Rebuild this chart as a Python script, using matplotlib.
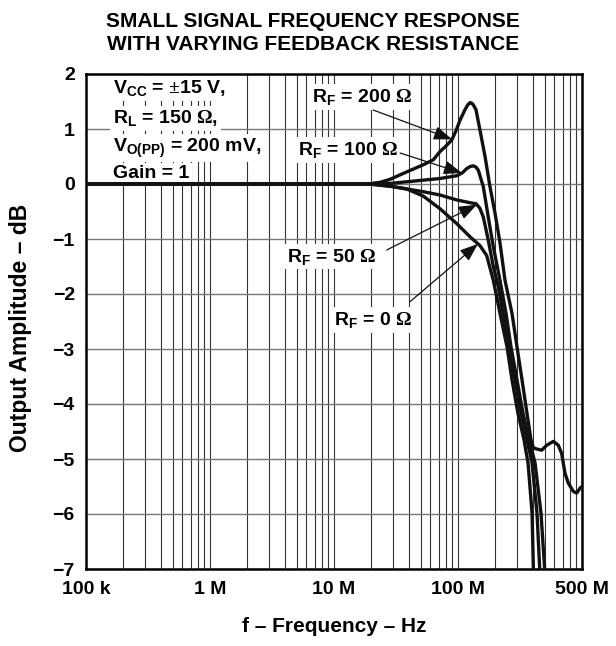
import matplotlib
matplotlib.use("Agg")
import matplotlib.pyplot as plt
import numpy as np
from matplotlib.ticker import LogLocator, NullFormatter

# fonts: Arial-like bold everywhere, serif for the Omega / plus-minus signs
plt.rcParams['font.family'] = ['Liberation Sans', 'DejaVu Sans']
plt.rcParams['font.weight'] = 'bold'
plt.rcParams['mathtext.fontset'] = 'custom'
plt.rcParams['mathtext.rm'] = 'Liberation Serif'
plt.rcParams['mathtext.bf'] = 'Liberation Sans:bold'
plt.rcParams['mathtext.it'] = 'Liberation Sans:bold'
plt.rcParams['mathtext.sf'] = 'Liberation Sans:bold'

# frequency in MHz, amplitude in dB
rf200_f = [0.1, 1, 10, 18.5, 23.5, 28.3, 38.6, 52.5, 63.2, 71.6, 80.0, 89.0, 96.0, 103.8,
           113.8, 120.0, 125.0, 129.0, 132.8, 139.7, 150.4, 165.2, 181.1, 198.8, 218.1,
           239.3, 272.5, 299.0, 328.3, 359.9, 388.0, 402.8, 418.1, 473.1, 519.0, 587.1,
           644.2, 685.5, 729.4, 776.2, 851.4, 906.3, 963.9, 1000.0]
rf200_db = [0, 0, 0, 0.0, 0.03, 0.085, 0.22, 0.35, 0.44, 0.59, 0.69, 0.80, 0.96, 1.16,
            1.35, 1.44, 1.48, 1.47, 1.44, 1.35, 0.98, 0.50, -0.05, -0.53, -1.07,
            -1.75, -2.35, -2.96, -3.56, -4.17, -4.65, -4.78, -4.81, -4.84, -4.75, -4.68,
            -4.75, -4.90, -5.26, -5.44, -5.59, -5.62, -5.53, -5.50]

rf100_f = [0.1, 1, 10, 20, 28.3, 52.5, 71.6, 97.7, 108.0, 117.5, 126.0, 132.8, 139.0,
           145.9, 160.0, 175.4, 192.6, 218.1, 243.8, 267.5, 299.0, 334.4, 374.0, 418.1,
           466.8, 503.3]
rf100_db = [0, 0, 0, 0, 0.01, 0.07, 0.10, 0.15, 0.20, 0.28, 0.32, 0.33, 0.31, 0.25,
            -0.05, -0.60, -1.14, -1.75, -2.35, -2.96, -3.56, -4.17, -4.65, -5.07,
            -5.98, -7.1]

rf50_f = [0.1, 1, 10, 20, 28.3, 52.5, 71.6, 97.7, 125.0, 140.0, 150.0, 160.0, 175.4,
          192.6, 211.4, 230.7, 257.8, 288.4, 322.3, 359.9, 395.5, 433.5, 458.3]
rf50_db = [0, 0, 0, 0, -0.04, -0.14, -0.20, -0.29, -0.34, -0.36, -0.44, -0.60, -1.02,
           -1.50, -1.87, -2.35, -2.96, -3.56, -4.17, -4.65, -5.07, -5.98, -7.1]

rf0_f = [0.1, 1, 10, 18.5, 28.3, 38.6, 52.5, 71.6, 97.7, 125.0, 150.4, 170.3, 192.6,
         218.1, 248.5, 272.5, 304.6, 340.6, 367.0, 395.5, 406.4]
rf0_db = [0, 0, 0, 0, -0.04, -0.09, -0.22, -0.45, -0.72, -0.96, -1.12, -1.30, -1.75,
          -2.35, -2.96, -3.56, -4.17, -4.65, -5.07, -5.98, -7.1]

curves = [(rf200_f, rf200_db), (rf100_f, rf100_db), (rf50_f, rf50_db), (rf0_f, rf0_db)]

xticks = [0.1, 1, 10, 100, 1000]
xtick_labels = ['100 k', '1 M', '10 M', '100 M', '500 M']
yticks = [2, 1, 0, -1, -2, -3, -4, -5, -6, -7]
ytick_labels = [str(v).replace('-', '\u2212') for v in yticks]

OHM = '$\\mathrm{\\Omega}$'
rf_labels = ['R$_{\\mathbf{F}}$ = 200 ' + OHM, 'R$_{\\mathbf{F}}$ = 100 ' + OHM,
             'R$_{\\mathbf{F}}$ = 50 ' + OHM, 'R$_{\\mathbf{F}}$ = 0 ' + OHM]
rf_label_pos = [(6.61, 1.49), (5.13, 0.527), (4.16, -1.41), (10.05, -2.56)]
arrow_start = [(20.7, 1.345), (34.1, 0.564), (26.6, -1.2), (41.0, -2.14)]
arrow_tip_f = [89.5, 107.7, 142.0, 145.0]

cond_lines = ['V$_{\\mathbf{CC}}$ = $\\mathrm{\\pm}$15 V,', 'R$_{\\mathbf{L}}$ = 150 ' + OHM + ',',
              'V$_{\\mathbf{O(PP)}}$ = 200 mV,', 'Gain = 1']
cond_y = [0.961, 0.900, 0.843, 0.789]

fig = plt.figure(figsize=(6.16, 6.46), dpi=100)
ax = fig.add_axes([86 / 616, 1 - 569 / 646, 496 / 616, 495 / 646])

for f, g in curves:
    ax.plot(f, g, color='#111111', lw=2.4, solid_joinstyle='round', zorder=4)

ax.set_xscale('log')
ax.set_xlim(0.1, 1000)
ax.set_ylim(-7, 2)
ax.set_xticks(xticks, xtick_labels)
ax.xaxis.set_minor_locator(LogLocator(base=10, subs=range(2, 10)))
ax.xaxis.set_minor_formatter(NullFormatter())
ax.set_yticks(yticks, ytick_labels)
ax.tick_params(which='both', length=0, labelsize=14, pad=8)
ax.tick_params(axis='x', pad=9)
ax.grid(which='both', axis='x', color='#333333', lw=0.8)
ax.grid(which='major', axis='y', color='#777777', lw=1.0)
ax.set_axisbelow(True)
for s in ax.spines.values():
    s.set_linewidth(1.8)

box = dict(facecolor='white', edgecolor='none', pad=2)

for s, y in zip(cond_lines, cond_y):
    ax.text(0.0544, y, s, transform=ax.transAxes, fontsize=14, ha='left',
            va='baseline', bbox=box, zorder=3)

for i, (f, g) in enumerate(curves):
    ax.text(rf_label_pos[i][0], rf_label_pos[i][1], rf_labels[i], fontsize=14,
            ha='left', va='baseline', bbox=box, zorder=3)
    tip_f = arrow_tip_f[i]
    tip_db = np.interp(np.log10(tip_f), np.log10(f), g)
    ax.annotate('', xy=(tip_f, tip_db), xytext=arrow_start[i],
                arrowprops=dict(arrowstyle='-|>,head_length=0.8,head_width=0.3',
                                mutation_scale=14, color='#111111', lw=0.9,
                                shrinkA=0, shrinkB=0), zorder=5)

fig.text(313 / 616, 1 - 26.7 / 646, 'SMALL SIGNAL FREQUENCY RESPONSE', fontsize=15,
         ha='center', va='baseline')
fig.text(313 / 616, 1 - 50 / 646, 'WITH VARYING FEEDBACK RESISTANCE', fontsize=15,
         ha='center', va='baseline')
fig.text(334 / 616, 1 - 631.7 / 646, 'f \u2013 Frequency \u2013 Hz', fontsize=15,
         ha='center', va='baseline')
fig.text(21 / 616, 1 - 328 / 646, 'Output Amplitude \u2013 dB', fontsize=16.5,
         ha='center', va='center', rotation=90)

fig.savefig('out.png', dpi=100)
